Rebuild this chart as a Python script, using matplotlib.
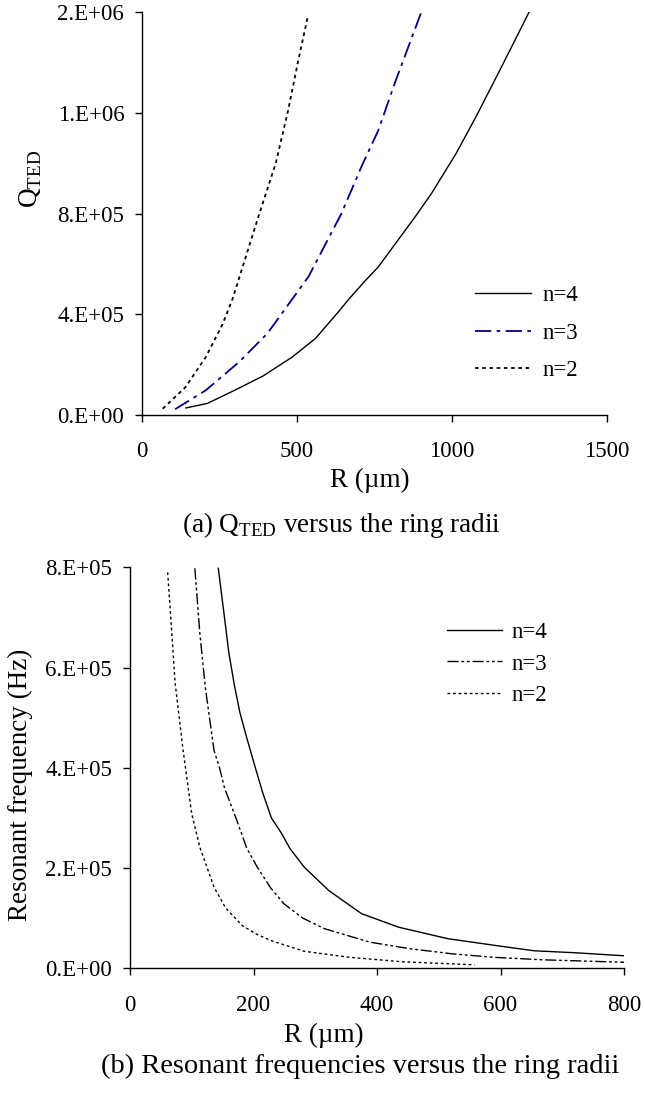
import matplotlib
matplotlib.use("Agg")
import matplotlib.pyplot as plt

# ? Top panel : Q_TED versus R
r_n4_top = [141, 210, 298, 390, 484, 560, 630, 669, 722, 762, 881, 934, 1014,
            1080, 1159, 1249]
q_n4_top = [2.8e4, 4.6e4, 9.8e4, 1.55e5, 2.3e5, 3.05e5, 4.05e5, 4.63e5,
            5.36e5, 5.88e5, 7.87e5, 8.8e5, 1.04e6, 1.19e6, 1.38e6, 1.6e6]
r_n3_top = [106, 205, 312, 404, 537, 643, 709, 762, 816, 901]
q_n3_top = [2.3e4, 9.8e4, 2.1e5, 3.24e5, 5.5e5, 8.0e5, 0.99e6, 1.13e6,
            1.32e6, 1.6e6]
r_n2_top = [66, 139, 205, 259, 292, 378, 431, 471, 504, 534]
q_n2_top = [2.5e4, 1.1e5, 2.3e5, 3.6e5, 4.63e5, 8.0e5, 1.0e6, 1.21e6, 1.41e6,
            1.58e6]

# ? Bottom panel : resonant frequency versus R
r_n4_bot = [143, 153, 160, 169, 178, 189, 203, 215, 229, 245, 259, 282, 322,
            375, 435, 515, 595, 654, 721, 800]
f_n4_bot = [7.98e5, 7.0e5, 6.3e5, 5.65e5, 5.1e5, 4.6e5, 4.0e5, 3.5e5, 3.0e5,
            2.7e5, 2.39e5, 2.02e5, 1.55e5, 1.09e5, 8.2e4, 5.9e4, 4.5e4,
            3.5e4, 3.1e4, 2.5e4]
r_n3_bot = [105, 113, 122, 136, 145, 153, 173, 189, 206, 228, 249, 280, 315,
            389, 454, 521, 588, 667, 800]
f_n3_bot = [7.98e5, 6.7e5, 5.6e5, 4.35e5, 4.0e5, 3.6e5, 2.95e5, 2.4e5,
            2.02e5, 1.6e5, 1.29e5, 1.0e5, 7.9e4, 5.2e4, 3.9e4, 2.9e4, 2.2e4,
            1.7e4, 1.2e4]
r_n2_bot = [61, 66, 73, 86, 100, 113, 136, 155, 182, 205, 229, 282, 355, 441,
            558]
f_n2_bot = [7.9e5, 7.0e5, 5.7e5, 4.35e5, 3.08e5, 2.42e5, 1.62e5, 1.2e5,
            8.5e4, 6.8e4, 5.5e4, 3.4e4, 2.2e4, 1.3e4, 7e3]

# ? Tick values and labels
top_xticks = [0, 500, 1000, 1500]
top_yticks = [0, 4e5, 8e5, 1.2e6, 1.6e6]
top_ylabels = ["0.E+00", "4.E+05", "8.E+05", "1.E+06", "2.E+06"]
bot_xticks = [0, 200, 400, 600, 800]
bot_yticks = [0, 2e5, 4e5, 6e5, 8e5]
bot_ylabels = ["0.E+00", "2.E+05", "4.E+05", "6.E+05", "8.E+05"]

plt.rcParams["font.family"] = ["Liberation Serif", "DejaVu Serif"]
plt.rcParams["mathtext.fontset"] = "custom"
plt.rcParams["mathtext.rm"] = "Liberation Serif"

W, H = 645, 1095
TICK_FS = 16.5
LABEL_FS = 19.5


def fx(px):
    return px / W


def fy(py):
    return 1 - py / H


def style_axes(ax, xticks, yticks, ylabels, xlim, ylim):
    ax.set_xlim(*xlim)
    ax.set_ylim(*ylim)
    ax.set_xticks(xticks)
    ax.set_xticklabels([str(t) for t in xticks])
    ax.set_yticks(yticks)
    ax.set_yticklabels(ylabels)
    for side in ["top", "right"]:
        ax.spines[side].set_visible(False)
    for side in ["left", "bottom"]:
        ax.spines[side].set_linewidth(1.0)
    ax.tick_params(axis="both", direction="out", length=5, width=1.0,
                   labelsize=TICK_FS)
    ax.tick_params(axis="x", pad=14)
    ax.tick_params(axis="y", pad=8)


fig = plt.figure(figsize=(W / 100, H / 100), dpi=100)

# * Top panel
ax1 = fig.add_axes([fx(142.3), fy(415), fx(606.7 - 142.3), (415 - 12.3) / H])
ax1.plot(r_n4_top, q_n4_top, color="black", lw=1.0, label="n=4")
ax1.plot(r_n3_top, q_n3_top, color="#000080", lw=1.3, dashes=(9, 3, 2, 3),
         label="n=3")
ax1.plot(r_n2_top, q_n2_top, color="black", lw=1.3, dashes=(2, 2),
         label="n=2")
style_axes(ax1, top_xticks, top_yticks, top_ylabels, (0, 1500), (0, 1.6e6))
ax1.legend(loc="center left", bbox_to_anchor=(fx(475), fy(333)),
           bbox_transform=fig.transFigure, frameon=False, fontsize=TICK_FS,
           handlelength=2.45, handletextpad=0.5, labelspacing=0.72,
           borderpad=0, borderaxespad=0)

# * Bottom panel
ax2 = fig.add_axes([fx(130), fy(968.3), fx(624 - 130), (968.3 - 567.3) / H])
ax2.plot(r_n4_bot, f_n4_bot, color="black", lw=1.0, label="n=4")
ax2.plot(r_n3_bot, f_n3_bot, color="black", lw=1.0,
         dashes=(8, 2, 2, 2, 2, 2), label="n=3")
ax2.plot(r_n2_bot, f_n2_bot, color="black", lw=1.0, dashes=(2, 2),
         label="n=2")
style_axes(ax2, bot_xticks, bot_yticks, bot_ylabels, (0, 800), (0, 8e5))
ax2.legend(loc="center left", bbox_to_anchor=(fx(447), fy(664)),
           bbox_transform=fig.transFigure, frameon=False, fontsize=TICK_FS,
           handlelength=2.4, handletextpad=0.4, labelspacing=0.45,
           borderpad=0, borderaxespad=0)

# * Axis labels and captions
fig.text(fx(31), fy(179), r"Q$_{\mathrm{TED}}$", fontsize=LABEL_FS,
         rotation=90, ha="center", va="center")
fig.text(fx(370), fy(480), "R (\u00b5m)", fontsize=LABEL_FS,
         ha="center", va="center")
fig.text(fx(341), fy(525), r"(a) Q$_{\mathrm{TED}}$ versus the ring radii",
         fontsize=LABEL_FS, ha="center", va="center")
fig.text(fx(20), fy(785), "Resonant frequency (Hz)", fontsize=LABEL_FS,
         rotation=90, ha="center", va="center")
fig.text(fx(324), fy(1035), "R (\u00b5m)", fontsize=LABEL_FS,
         ha="center", va="center")
fig.text(fx(360), fy(1066), "(b) Resonant frequencies versus the ring radii",
         fontsize=20.5, ha="center", va="center")

fig.savefig("out.png", dpi=100)
